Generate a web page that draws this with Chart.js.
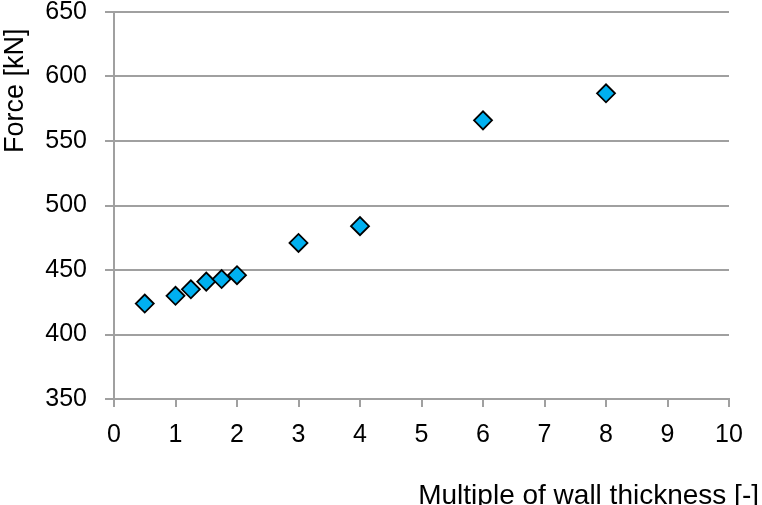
<!DOCTYPE html>
<html>
<head>
<meta charset="utf-8">
<script src="https://cdn.jsdelivr.net/npm/chart.js@4"></script>
<style>
  html,body{margin:0;padding:0;background:#fff;}
  #wrap{width:762px;height:505px;}
</style>
</head>
<body>
<div id="wrap"><canvas id="chart"></canvas></div>
<script>
// wall thickness multiples and measured force
const xValues = [0.5, 1, 1.25, 1.5, 1.75, 2, 3, 4, 6, 8];
const forceValues = [424, 430, 435, 441, 443, 446, 471, 484, 566, 587];
const xTicks = [0,1,2,3,4,5,6,7,8,9,10];
const yTicks = [350,400,450,500,550,600,650];

const xTitle = 'Multiple of wall thickness [-]';
const yTitle = 'Force [kN]';

const gridColor = '#a0a0a0';
const tickFont = {family:'Liberation Sans', size:25};

/* axis titles drawn at the edges, like the original */
const titles = {
  id:'titles',
  afterDraw(chart){
    const c = chart.ctx;
    c.save();
    c.fillStyle = '#000';
    c.font = '28px "Liberation Sans"';
    c.textBaseline = 'alphabetic';
    c.textAlign = 'right';
    c.fillText(xTitle, 759, 504);
    c.translate(23, 153);
    c.rotate(-Math.PI/2);
    c.textAlign = 'left';
    c.font = '27px "Liberation Sans"';
    c.fillText(yTitle, 0, 0);
    c.restore();
  }
};

new Chart(document.getElementById('chart'), {
  type:'scatter',
  data:{
    datasets:[{
      data: xValues.map((x,i)=>({x:x, y:forceValues[i]})),
      pointStyle:'rectRot',
      pointRadius:9,
      pointHoverRadius:9,
      pointBackgroundColor:'#00b0f0',
      pointBorderColor:'#000',
      pointBorderWidth:1.8
    }]
  },
  options:{
    responsive:true,
    maintainAspectRatio:false,
    animation:false,
    layout:{padding:{top:12,right:33,left:0,bottom:0}},
    plugins:{legend:{display:false},tooltip:{enabled:false}},
    scales:{
      x:{
        type:'linear', min:0, max:10,
        afterBuildTicks: s=>{ s.ticks = xTicks.map(v=>({value:v})); },
        afterFit: s=>{ s.height = 106; },
        grid:{drawOnChartArea:false, drawTicks:true, tickLength:8, color:gridColor, lineWidth:2},
        border:{display:true, color:gridColor, width:2},
        ticks:{font:tickFont, color:'#000', padding:13, maxRotation:0}
      },
      y:{
        type:'linear', min:350, max:650,
        afterBuildTicks: s=>{ s.ticks = yTicks.map(v=>({value:v})); },
        afterFit: s=>{ s.width = 114; s.paddingTop = 0; s.paddingBottom = 0; },
        grid:{drawOnChartArea:true, drawTicks:true, tickLength:9, color:gridColor, lineWidth:2},
        border:{display:true, color:gridColor, width:2},
        ticks:{font:tickFont, color:'#000', padding:18}
      }
    }
  },
  plugins:[titles]
});
</script>
</body>
</html>
